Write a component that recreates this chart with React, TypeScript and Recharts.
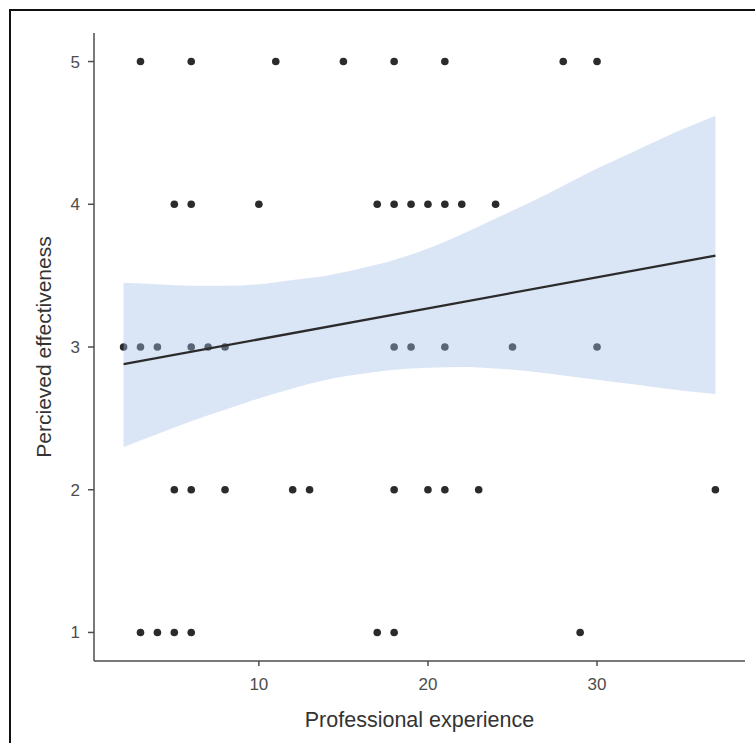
import React from 'react';
import { ComposedChart, XAxis, YAxis, Scatter, Area, Line, Label } from 'recharts';

// observed points, grouped by rating
const RATINGS = [5, 4, 3, 2, 1];
const EXP_RATED_5 = [3, 6, 11, 15, 18, 21, 28, 30];
const EXP_RATED_4 = [5, 6, 10, 17, 18, 19, 20, 21, 22, 24];
const EXP_RATED_3 = [2, 3, 4, 6, 7, 8, 18, 19, 21, 25, 30];
const EXP_RATED_2 = [5, 6, 8, 12, 13, 18, 20, 21, 23, 37];
const EXP_RATED_1 = [3, 4, 5, 6, 17, 18, 29];

// linear fit, read at the two ends
const FIT_X = [2, 37];
const FIT_Y = [2.88, 3.64];

// confidence band
const BAND_X = [2, 4, 6, 8, 10, 12, 14, 16, 18, 20, 22, 24, 26, 28, 30, 32, 34, 37];
const BAND_LO = [2.3, 2.39, 2.48, 2.56, 2.64, 2.71, 2.77, 2.81, 2.84, 2.855, 2.86, 2.85, 2.83, 2.8, 2.77, 2.74, 2.71, 2.67];
const BAND_HI = [3.45, 3.44, 3.43, 3.43, 3.44, 3.47, 3.5, 3.55, 3.61, 3.69, 3.79, 3.9, 4.01, 4.13, 4.25, 4.36, 4.47, 4.62];

const X_TICKS = [10, 20, 30];
const Y_TICKS = [1, 2, 3, 4, 5];

const groups = [EXP_RATED_5, EXP_RATED_4, EXP_RATED_3, EXP_RATED_2, EXP_RATED_1];
const points = groups.flatMap((g, i) => g.map(x => ({ x, y: RATINGS[i] })));
const fit = FIT_X.map((x, i) => ({ x, y: FIT_Y[i] }));
const band = BAND_X.map((x, i) => ({ x, band: [BAND_LO[i], BAND_HI[i]] }));

const FONT = '"Liberation Sans", Arial, Helvetica, sans-serif';
const AXIS = '#4d4d4d';

const Dot = (p: any) => <circle cx={p.cx} cy={p.cy} r={3.8} fill="#2b2b2b" />;

export default function App() {
  return (
    <div style={{ position: 'absolute', left: 0, top: 0, width: 755, height: 743, background: '#fff', fontFamily: FONT }}>
      {/* frame */}
      <div style={{ position: 'absolute', left: 9, top: 9, width: 746, height: 734, borderTop: '2px solid #111', borderLeft: '2px solid #111', boxSizing: 'border-box' }} />
      <div style={{ position: 'absolute', left: 0, top: 0 }}>
        <ComposedChart width={755} height={743} margin={{ top: 33, right: 10, bottom: 0, left: 34 }}>
          <XAxis
            type="number"
            dataKey="x"
            domain={[0.25, 38.75]}
            allowDataOverflow
            ticks={X_TICKS}
            height={82}
            stroke={AXIS}
            strokeWidth={1.5}
            tickSize={5}
            tickMargin={12}
            tick={{ fill: AXIS, fontSize: 17, fontFamily: FONT }}
          >
            <Label value="Professional experience" position="center" dy={17} fill="#333" fontSize={21.5} fontFamily={FONT} />
          </XAxis>
          <YAxis
            type="number"
            dataKey="y"
            domain={[0.8, 5.2]}
            allowDataOverflow
            ticks={Y_TICKS}
            width={60}
            stroke={AXIS}
            strokeWidth={1.5}
            tickSize={6}
            tickMargin={8}
            tick={{ fill: AXIS, fontSize: 17, fontFamily: FONT }}
          >
            <Label value="Percieved effectiveness" position="center" angle={-90} dx={-20} fill="#333" fontSize={21} fontFamily={FONT} />
          </YAxis>
          <Scatter data={points} shape={Dot} isAnimationActive={false} zIndex={50} />
          <Area
            data={band}
            dataKey="band"
            type="monotone"
            stroke="none"
            fill="#a3bee8"
            fillOpacity={0.4}
            isAnimationActive={false}
          />
          <Line data={fit} dataKey="y" type="linear" stroke="#2b2b2b" strokeWidth={2.3} dot={false} activeDot={false} isAnimationActive={false} />
        </ComposedChart>
      </div>
    </div>
  );
}
